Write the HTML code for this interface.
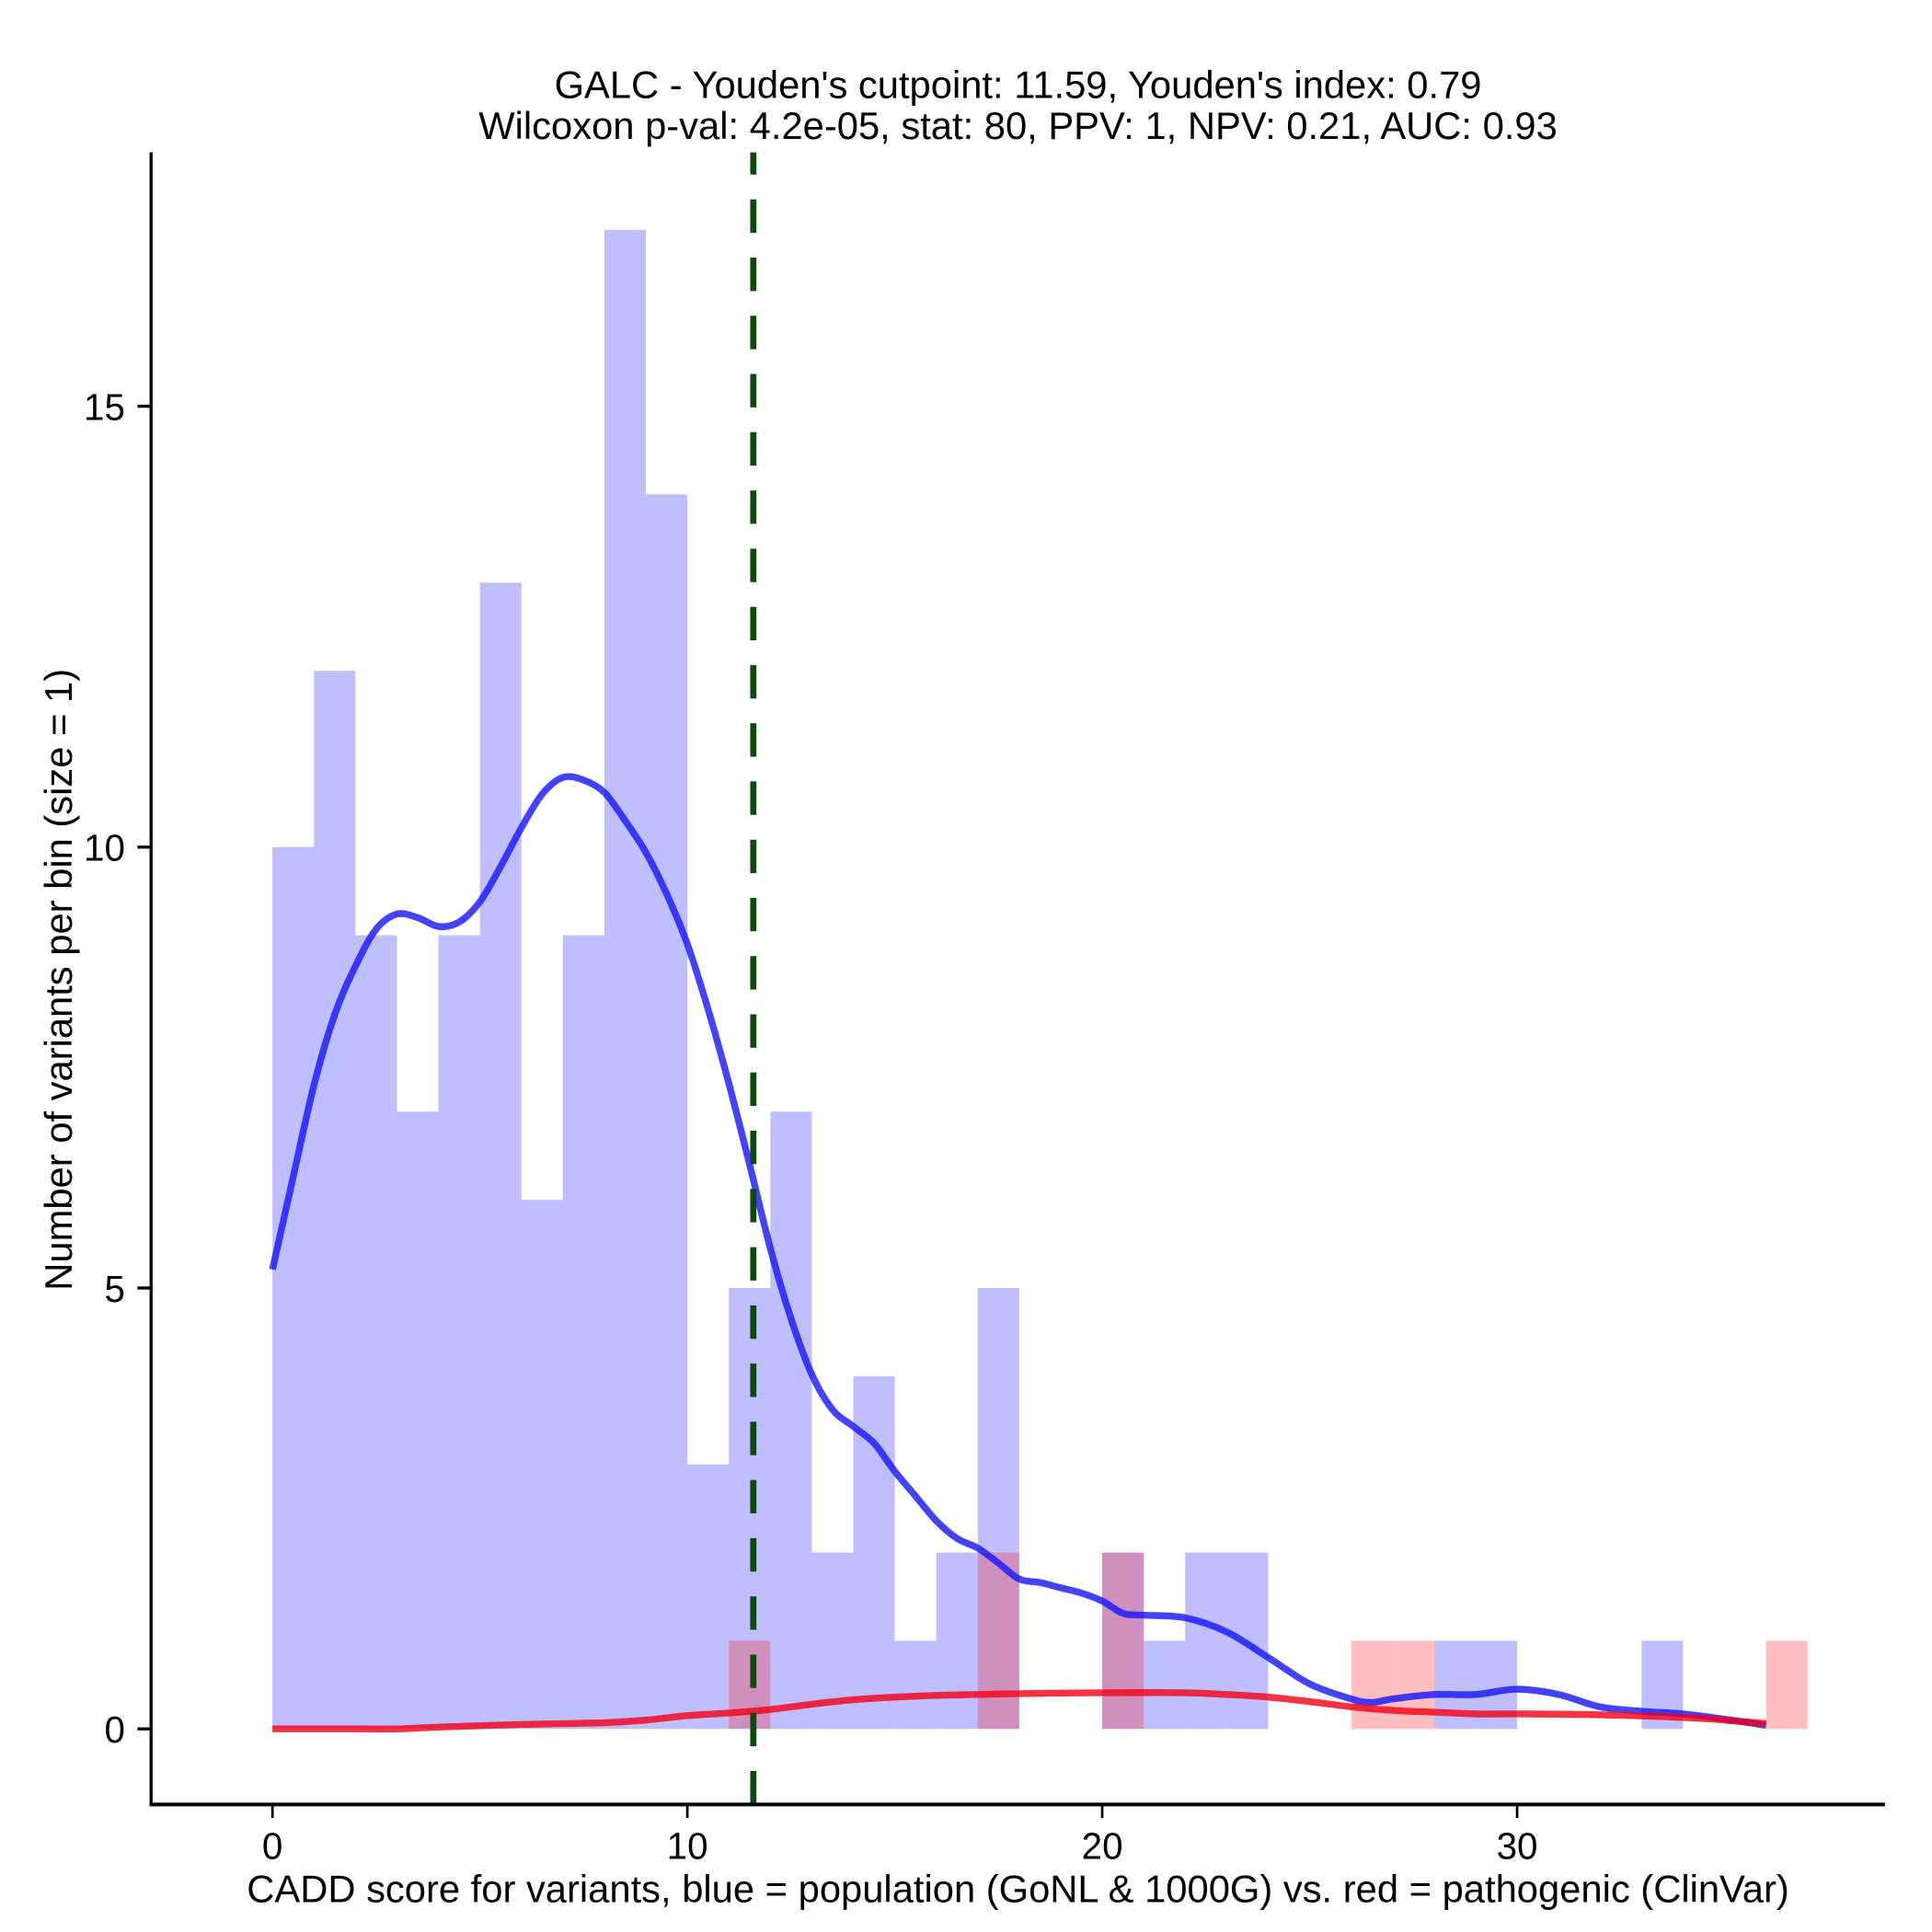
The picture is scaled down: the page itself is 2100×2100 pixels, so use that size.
<!DOCTYPE html>
<html><head><meta charset="utf-8"><style>
html,body{margin:0;padding:0;background:#fff}
svg{display:block}
text{font-family:"Liberation Sans",Arial,sans-serif;fill:#000}
</style></head><body>
<svg id="chart" width="2100" height="2100" viewBox="0 0 1560 1560" xmlns="http://www.w3.org/2000/svg">
<g id="bars"></g>
<g id="curves"></g>
<line id="cut" y1="1457" y2="123" stroke="#0b4a0b" stroke-width="5" stroke-dasharray="27,20"/>
<line x1="122" y1="123" x2="122" y2="1458" stroke="#000" stroke-width="2.5"/>
<line x1="121" y1="1457" x2="1522" y2="1457" stroke="#000" stroke-width="3"/>
<g id="ticks"></g>
<text x="822" y="79" font-size="31" text-anchor="middle">GALC - Youden's cutpoint: 11.59, Youden's index: 0.79</text>
<text x="822" y="112" font-size="31" text-anchor="middle">Wilcoxon p-val: 4.2e-05, stat: 80, PPV: 1, NPV: 0.21, AUC: 0.93</text>
<text x="822" y="1536" font-size="31" text-anchor="middle">CADD score for variants, blue = population (GoNL &amp; 1000G) vs. red = pathogenic (ClinVar)</text>
<text transform="translate(58,791) rotate(-90)" font-size="31" text-anchor="middle">Number of variants per bin (size = 1)</text>
</svg>
<script>
const blueCounts=[10,12,9,7,9,13,6,9,17,14,3,5,7,2,4,1,2,5,0,0,2,1,2,2,0,0,0,0,1,1,0,0,0,1,0,0,0];
const redCounts=[0,0,0,0,0,0,0,0,0,0,0,1,0,0,0,0,0,2,0,0,2,0,0,0,0,0,1,1,0,0,0,0,0,0,0,0,1];
const blueKdeX=[0,0.5,1,1.5,2,2.5,3,3.5,4,4.5,5,5.5,6,6.5,7,7.5,8,8.5,9,9.5,10,10.5,11,11.5,12,12.5,13,13.5,14,14.5,15,15.5,16,16.5,17,17.5,18,18.5,19,19.5,20,20.5,21,22,23,24,25,26,26.5,27,28,29,30,31,32,33,34,35,36];
const blueKdeY=[5.21,6.26,7.3,8.1,8.65,9.07,9.24,9.2,9.1,9.15,9.38,9.78,10.22,10.6,10.79,10.76,10.62,10.3,9.94,9.47,8.9,8.16,7.32,6.4,5.45,4.65,4.02,3.62,3.43,3.24,2.92,2.64,2.36,2.16,2.05,1.88,1.7,1.66,1.6,1.54,1.45,1.31,1.29,1.26,1.1,0.81,0.51,0.34,0.3,0.34,0.39,0.39,0.45,0.39,0.25,0.2,0.17,0.11,0.04];
const redKdeX=[0,2,3,4,6,8,9,10,11,12,13,14,15,16,17,18,20,22,23,24,25,26,27,28,29,30,32,34,35,36];
const redKdeY=[0,0,0,0.02,0.05,0.07,0.1,0.15,0.18,0.22,0.28,0.33,0.36,0.38,0.39,0.4,0.41,0.41,0.39,0.36,0.31,0.25,0.21,0.19,0.17,0.17,0.16,0.13,0.1,0.06];
const xTicks=[0,10,20,30];
const yTicks=[0,5,10,15];
const cutpoint=11.59;
const X=v=>220+v*33.5;
const Y=v=>1396-v*71.2;
const NS='http://www.w3.org/2000/svg';
const bars=document.getElementById('bars');
function drawBars(arr,fill,nm){
 arr.forEach((c,i)=>{ if(!c)return;
  const r=document.createElementNS(NS,'rect');
  r.setAttribute('x',X(i));r.setAttribute('y',Y(c));
  r.setAttribute('width',X(i+1)-X(i));r.setAttribute('height',Y(0)-Y(c));
  r.setAttribute('fill',fill);
  
  
  bars.appendChild(r);});
}
drawBars(blueCounts,'rgba(0,0,255,0.25)','population');
drawBars(redCounts,'rgba(255,0,0,0.25)','pathogenic');
const curves=document.getElementById('curves');
function smoothPath(xs,ys){
 const P=xs.map((x,i)=>[X(x),Y(ys[i])]);
 let d='M'+P[0][0]+','+P[0][1];
 for(let i=0;i<P.length-1;i++){
  const p0=P[i-1]||P[i],p1=P[i],p2=P[i+1],p3=P[i+2]||p2;
  const c1=[p1[0]+(p2[0]-p0[0])/6,p1[1]+(p2[1]-p0[1])/6];
  const c2=[p2[0]-(p3[0]-p1[0])/6,p2[1]-(p3[1]-p1[1])/6];
  d+=' C'+c1[0]+','+c1[1]+' '+c2[0]+','+c2[1]+' '+p2[0]+','+p2[1];
 }
 return d;
}
function drawLine(xs,ys,col,nm){
 const p=document.createElementNS(NS,'path');
 p.setAttribute('d',smoothPath(xs,ys));
 p.setAttribute('fill','none');p.setAttribute('stroke',col);
 p.setAttribute('stroke-width','5.5');p.setAttribute('stroke-linejoin','round');
 
 
 curves.appendChild(p);
}
drawLine(blueKdeX,blueKdeY,'rgba(20,20,255,0.8)','population-density-curve');
drawLine(redKdeX,redKdeY,'rgba(245,0,20,0.8)','pathogenic-density-curve');
const cut=document.getElementById('cut');
cut.setAttribute('x1',X(cutpoint));cut.setAttribute('x2',X(cutpoint));
const tk=document.getElementById('ticks');
xTicks.forEach(v=>{
 const l=document.createElementNS(NS,'line');
 l.setAttribute('x1',X(v));l.setAttribute('x2',X(v));l.setAttribute('y1',1457);l.setAttribute('y2',1468);
 l.setAttribute('stroke','#000');l.setAttribute('stroke-width','2');
 
 
 tk.appendChild(l);
 const t=document.createElementNS(NS,'text');
 t.setAttribute('x',X(v));t.setAttribute('y',1501);t.setAttribute('font-size','30');t.setAttribute('text-anchor','middle');
 t.textContent=v;
 
 
 tk.appendChild(t);
});
yTicks.forEach(v=>{
 const l=document.createElementNS(NS,'line');
 l.setAttribute('x1',111);l.setAttribute('x2',122);l.setAttribute('y1',Y(v));l.setAttribute('y2',Y(v));
 l.setAttribute('stroke','#000');l.setAttribute('stroke-width','2.5');
 
 
 tk.appendChild(l);
 const t=document.createElementNS(NS,'text');
 t.setAttribute('x',101);t.setAttribute('y',Y(v)+11);t.setAttribute('font-size','30');t.setAttribute('text-anchor','end');
 t.textContent=v;
 
 
 tk.appendChild(t);
});
</script>
</body></html>
